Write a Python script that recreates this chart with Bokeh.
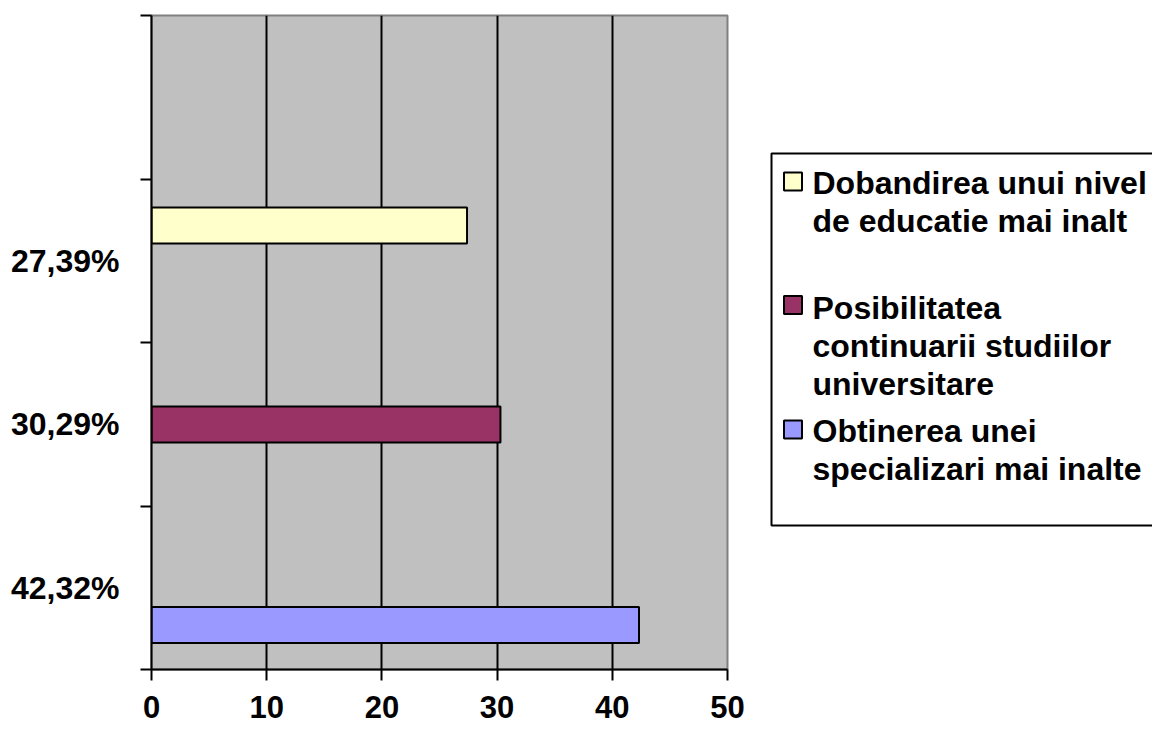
from bokeh.plotting import figure
from bokeh.layouts import row
from bokeh.models import FixedTicker, Range1d
from bokeh.core.properties import value
from bokeh.embed import file_html
from bokeh.resources import INLINE

# ---- data ----
categories = [
    "Obtinerea unei specializari mai inalte",
    "Posibilitatea continuarii studiilor universitare",
    "Dobandirea unui nivel de educatie mai inalt",
]
values = [42.32, 30.29, 27.39]
colors = ["#9999FF", "#993366", "#FFFFCC"]
x_ticks = [0, 10, 20, 30, 40, 50]
legend_lines = [
    ["Obtinerea unei", "specializari mai inalte"],
    ["Posibilitatea", "continuarii studiilor", "universitare"],
    ["Dobandirea unui nivel", "de educatie mai inalt"],
]

# ---- layout (positions on the category axis) ----
bar_pos = [0.272, 1.498, 2.716]
label_pos = [0.5, 1.5, 2.5]
band_edges = [0, 1, 2, 3, 4]

FONT = "Liberation Sans"
labels = [f"{v:.2f}".replace(".", ",") + "%" for v in values]

p = figure(width=760, height=730, x_range=Range1d(0, 50), y_range=Range1d(0, 4),
           toolbar_location=None, output_backend="svg",
           min_border_left=151, min_border_right=33, min_border_top=15, min_border_bottom=61)
p.background_fill_color = "#C0C0C0"
p.border_fill_color = "white"
p.outline_line_color = "#808080"
p.outline_line_width = 2

p.hbar(y=bar_pos, right=values, left=0, height=0.22, fill_color=colors,
       line_color="black", line_width=2)

# x axis
p.xaxis.ticker = FixedTicker(ticks=x_ticks)
p.xaxis.axis_line_color = "black"
p.xaxis.axis_line_width = 2
p.xaxis.major_tick_line_color = "black"
p.xaxis.major_tick_line_width = 2
p.xaxis.major_tick_in = 0
p.xaxis.major_tick_out = 11
p.xaxis.minor_tick_line_color = None
p.xaxis.major_label_standoff = 15
p.xaxis.major_label_text_font = FONT
p.xaxis.major_label_text_font_style = "bold"
p.xaxis.major_label_text_font_size = "31px"
p.xaxis.major_label_text_color = "black"

# y axis
p.yaxis.ticker = FixedTicker(ticks=label_pos, minor_ticks=band_edges)
p.yaxis.major_label_overrides = {lp: lb for lp, lb in zip(label_pos, labels)}
p.yaxis.axis_line_color = "black"
p.yaxis.axis_line_width = 2
p.yaxis.major_tick_line_color = None
p.yaxis.major_tick_in = 0
p.yaxis.major_tick_out = 0
p.yaxis.minor_tick_line_color = "black"
p.yaxis.minor_tick_line_width = 2
p.yaxis.minor_tick_in = 0
p.yaxis.minor_tick_out = 11
p.yaxis.major_label_standoff = 21
p.yaxis.major_label_text_font = FONT
p.yaxis.major_label_text_font_style = "bold"
p.yaxis.major_label_text_font_size = "32px"
p.yaxis.major_label_text_color = "black"

p.xgrid.ticker = FixedTicker(ticks=x_ticks[1:-1])
p.xgrid.grid_line_color = "black"
p.xgrid.grid_line_width = 2
p.ygrid.grid_line_color = None

# ---- legend panel (coordinates = page pixels) ----
lg = figure(width=392, height=730, x_range=Range1d(760, 1152), y_range=Range1d(669, 15),
            toolbar_location=None, output_backend="svg", x_axis_type=None, y_axis_type=None,
            min_border_left=0, min_border_right=0, min_border_top=15, min_border_bottom=61)
lg.outline_line_color = None
lg.xgrid.visible = False
lg.ygrid.visible = False
lg.background_fill_color = "white"
lg.border_fill_color = "white"

lg.quad(left=771, right=1200, top=153, bottom=525, fill_color=None, line_color="black", line_width=2)

order = [2, 1, 0]
swatch_y = [181, 304.5, 429]
first_base = [182, 307, 430]
line_h = 38
tx, ty, tt = [], [], []
for k, idx in enumerate(order):
    for j, ln in enumerate(legend_lines[idx]):
        tx.append(812)
        ty.append(first_base[k] + j * line_h)
        tt.append(ln)
lg.rect(x=[792.5] * 3, y=swatch_y, width=18, height=18,
        fill_color=[colors[i] for i in order], line_color="black", line_width=2)
lg.text(x=tx, y=ty, text=tt, text_font=value(FONT), text_font_style="bold",
        text_font_size="32px", text_color="black", text_baseline="alphabetic", text_align="left")

layout = row(p, lg)
open("out.html", "w").write(file_html(layout, INLINE))
